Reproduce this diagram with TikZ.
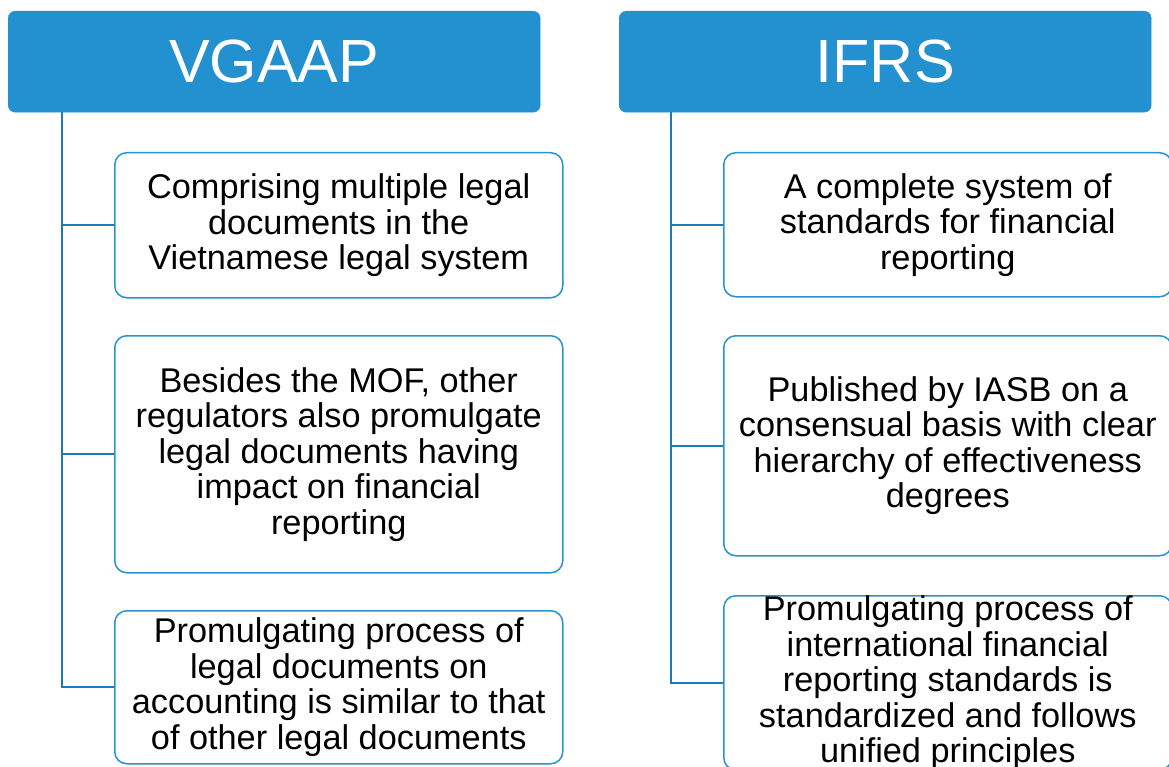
\documentclass[tikz,border=0pt]{standalone}
\usepackage{fontspec}
\setmainfont{Liberation Sans}
\definecolor{headblue}{HTML}{2391CF}
\definecolor{edgeblue}{HTML}{2A92D0}
\definecolor{linkblue}{HTML}{1F7AB8}
\begin{document}
\begin{tikzpicture}[x=1pt,y=-1pt,
  header/.style={draw=headblue,fill=headblue,rounded corners=7pt,anchor=north west,
    text=white,font=\fontsize{61}{61}\selectfont,inner sep=0pt,
    minimum width=532pt,minimum height=101pt},
  item/.style={draw=edgeblue,line width=1.5pt,fill=white,rounded corners=12pt,
    anchor=north west,align=center,inner sep=0pt,
    font=\fontsize{34.3}{35.5}\selectfont},
  link/.style={draw=linkblue,line width=1.8pt}]
\useasboundingbox (0,0) rectangle (1169,767);

% left column
\node[header] (vg) at (8,11) {VGAAP};
\node[item,minimum width=448pt,minimum height=145pt] (v1) at (114,152)
  {Comprising multiple legal\\documents in the\\Vietnamese legal system};
\node[item,minimum width=448pt,minimum height=237pt] (v2) at (114,335)
  {Besides the MOF, other\\regulators also promulgate\\legal documents having\\impact on financial\\reporting};
\node[item,minimum width=448pt,minimum height=153pt] (v3) at (114,610)
  {Promulgating process of\\legal documents on\\accounting is similar to that\\of other legal documents};
\coordinate (vt) at (62,112);
\draw[link] (vt) |- (v3.west);
\draw[link] (vt |- v1.west) -- (v1.west);
\draw[link] (vt |- v2.west) -- (v2.west);

% right column
\node[header] (if) at (619,11) {IFRS};
\node[item,minimum width=448pt,minimum height=144pt] (i1) at (723,152)
  {A complete system of\\standards for financial\\reporting};
\node[item,minimum width=448pt,minimum height=220pt] (i2) at (723,335)
  {Published by IASB on a\\consensual basis with clear\\hierarchy of effectiveness\\degrees};
\node[item,minimum width=448pt,minimum height=170pt] (i3) at (723,595)
  {Promulgating process of\\international financial\\reporting standards is\\standardized and follows\\unified principles};
\coordinate (it) at (671,112);
\draw[link] (it) |- (i3.west);
\draw[link] (it |- i1.west) -- (i1.west);
\draw[link] (it |- i2.west) -- (i2.west);
\end{tikzpicture}
\end{document}
